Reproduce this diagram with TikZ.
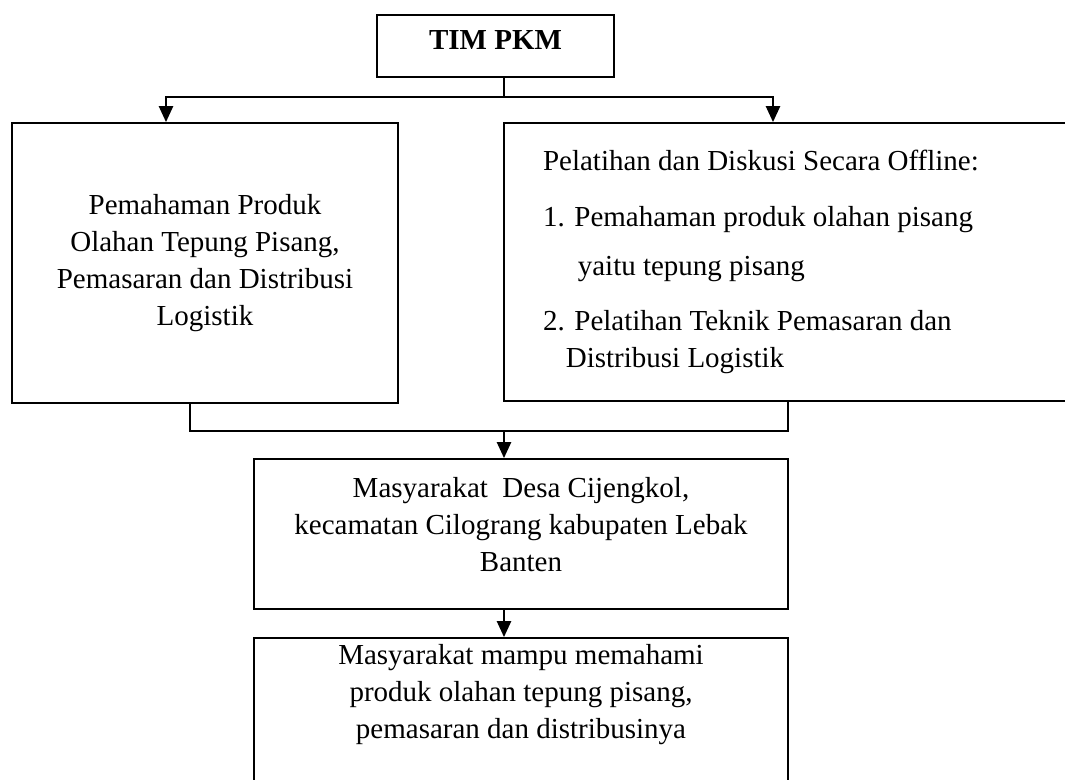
\documentclass[tikz,border=0pt]{standalone}
\usepackage{fontspec}
\setmainfont{Liberation Serif}
\usepackage{tikz}
\usetikzlibrary{arrows.meta, positioning, calc}

\begin{document}
\begin{tikzpicture}[
    x=0.02cm, y=-0.02cm,
    font=\fontsize{16.5}{21}\selectfont,
    box/.style={rectangle, draw=black, line width=1.1pt, align=center, inner sep=0pt},
    arrow/.style={-{Triangle[length=9pt, width=8pt]}, line width=1.1pt, draw=black},
    link/.style={line width=1.1pt, draw=black}
  ]
    \useasboundingbox (0,0) rectangle (1065,780);
    \clip (0,0) rectangle (1065,780);

    \node[box, minimum width=4.74cm, minimum height=1.24cm] (pkm) at (495.5, 46) {\textbf{TIM PKM}\\[-14pt]\mbox{}};
    \node[box, minimum width=7.72cm, minimum height=5.6cm] (left) at (205, 263) {Pemahaman Produk\\Olahan Tepung Pisang,\\Pemasaran dan Distribusi\\Logistik};
    \node[box, minimum width=11.28cm, minimum height=5.56cm, text width=9.72cm, align=flush left, inner xsep=0.78cm] (right) at (786, 262)
      {Pelatihan dan Diskusi Secara Offline:\\[10.6pt]
       1. Pemahaman produk olahan pisang\\[7.2pt]
       \hspace*{19.8pt}yaitu tepung pisang\\[10pt]
       2. Pelatihan Teknik Pemasaran dan\\
       \hspace*{13pt}Distribusi Logistik};
    \node[box, minimum width=10.68cm, minimum height=3.0cm] (mid) at (521, 534) {Masyarakat\ \ Desa Cijengkol,\\kecamatan Cilograng kabupaten Lebak\\Banten\\[-10pt]\mbox{}};
    \node[box, minimum width=10.68cm, minimum height=2.88cm] (bot) at (521, 710) {Masyarakat mampu memahami\\produk olahan tepung pisang,\\pemasaran dan distribusinya\\\mbox{}};

    \coordinate (split) at (504, 97);
    \coordinate (join) at (504, 431);

    % Flow transitions
    \draw[link] (pkm.south -| split) -- (split);
    \draw[arrow] (split) -| ($(left.north)+(-39,0)$);
    \draw[arrow] (split) -| ($(right.north)+(-13,0)$);

    \draw[link] ($(left.south)+(-15,0)$) |- (join) -| ($(right.south)+(2,0)$);
    \draw[arrow] (join) -- (mid.north -| join);
    \draw[arrow] (mid.south -| join) -- (bot.north -| join);

  \end{tikzpicture}
\end{document}
